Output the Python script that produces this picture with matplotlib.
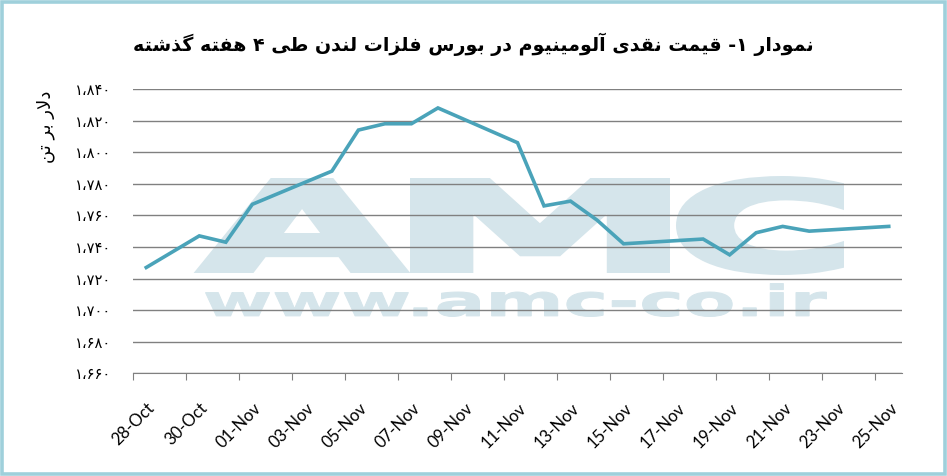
import numpy as np
import pandas as pd
import matplotlib
matplotlib.use('Agg')
from matplotlib import pyplot as plt
from matplotlib.patches import PathPatch, Rectangle
from matplotlib.textpath import TextPath
from matplotlib.font_manager import FontProperties
from matplotlib.transforms import Affine2D


dates = ['2019-10-28', '2019-10-29', '2019-10-30', '2019-10-31', '2019-11-01',
         '2019-11-04', '2019-11-05', '2019-11-06', '2019-11-07', '2019-11-08',
         '2019-11-11', '2019-11-12', '2019-11-13', '2019-11-14', '2019-11-15',
         '2019-11-18', '2019-11-19', '2019-11-20', '2019-11-21', '2019-11-22',
         '2019-11-25']
prices = [1727, 1737, 1747, 1743, 1767,
          1788, 1814, 1818, 1818, 1828,
          1806, 1766, 1769, 1757, 1742,
          1745, 1735, 1749, 1753, 1750,
          1753]
yticks = list(range(1660, 1841, 20))
title = 'نمودار ۱- قیمت نقدی آلومینیوم در بورس فلزات لندن طی ۴ هفته گذشته'
ylabel = 'دلار بر تن'


# matplotlib has no arabic shaping, so pick presentation forms by hand
# (isolated, final, initial, medial)
FORMS = {
	'ا': ('\uFE8D', '\uFE8E', None, None),
	'آ': ('\uFE81', '\uFE82', None, None),
	'ب': ('\uFE8F', '\uFE90', '\uFE91', '\uFE92'),
	'ت': ('\uFE95', '\uFE96', '\uFE97', '\uFE98'),
	'د': ('\uFEA9', '\uFEAA', None, None),
	'ذ': ('\uFEAB', '\uFEAC', None, None),
	'ر': ('\uFEAD', '\uFEAE', None, None),
	'ز': ('\uFEAF', '\uFEB0', None, None),
	'س': ('\uFEB1', '\uFEB2', '\uFEB3', '\uFEB4'),
	'ش': ('\uFEB5', '\uFEB6', '\uFEB7', '\uFEB8'),
	'ط': ('\uFEC1', '\uFEC2', '\uFEC3', '\uFEC4'),
	'ف': ('\uFED1', '\uFED2', '\uFED3', '\uFED4'),
	'ق': ('\uFED5', '\uFED6', '\uFED7', '\uFED8'),
	'ل': ('\uFEDD', '\uFEDE', '\uFEDF', '\uFEE0'),
	'م': ('\uFEE1', '\uFEE2', '\uFEE3', '\uFEE4'),
	'ن': ('\uFEE5', '\uFEE6', '\uFEE7', '\uFEE8'),
	'ه': ('\uFEE9', '\uFEEA', '\uFEEB', '\uFEEC'),
	'و': ('\uFEED', '\uFEEE', None, None),
	'ی': ('\uFBFC', '\uFBFD', '\uFBFE', '\uFBFF'),
	'گ': ('\uFB92', '\uFB93', '\uFB94', '\uFB95'),
}


def shape(s):
	out = []
	i = 0
	while i < len(s):
		c = s[i]
		if c not in FORMS:
			out.append(c)
			i += 1
			continue
		prev = s[i-1] if i > 0 else None
		jp = prev in FORMS and FORMS[prev][2] is not None
		if c == 'ل' and i+1 < len(s) and s[i+1] == 'ا':
			out.append('\uFEFC' if jp else '\uFEFB')
			i += 2
			continue
		nxt = s[i+1] if i+1 < len(s) else None
		iso, fin, ini, med = FORMS[c]
		jn = ini is not None and nxt in FORMS
		if jp and jn:
			out.append(med)
		elif jp:
			out.append(fin)
		elif jn:
			out.append(ini)
		else:
			out.append(iso)
		i += 1
	return ''.join(out)[::-1]


def fa_num(v):
	return f'{v:,}'.translate(str.maketrans('0123456789,', '۰۱۲۳۴۵۶۷۸۹،'))


W, H = 947, 476
fig = plt.figure(figsize=(W/100, H/100), dpi=100)
ax = fig.add_axes([133/W, 1-373.3/H, 769/W, (373.3-89)/H])

x = pd.to_datetime(dates) + pd.Timedelta(hours=12)
ax.plot(x, prices, color='#4aa3b9', linewidth=2.6, zorder=3, solid_joinstyle='miter')

ax.set_ylim(1660, 1840)
ax.set_yticks(yticks)
ax.set_yticklabels([fa_num(v) for v in yticks], fontsize=10.5, family='DejaVu Sans')
ax.set_xlim(pd.Timestamp('2019-10-28'), pd.Timestamp('2019-11-26'))
ticks = pd.date_range('2019-10-28', '2019-11-25', freq='2D')
ax.set_xticks(ticks)
ax.set_xticklabels([t.strftime('%d-%b') for t in ticks], rotation=45,
	ha='center', va='top', fontsize=12, family='Lato')

ax.set_axisbelow(True)
ax.grid(axis='y', color='#808080', linewidth=1)
for s in ['top', 'right', 'left']:
	ax.spines[s].set_visible(False)
ax.spines['bottom'].set_color('#808080')
ax.tick_params(axis='y', length=0, pad=16)
ax.tick_params(axis='x', length=5, color='#808080', pad=14)


def watermark(text, box, stroke):
	# box in pixels from top-left: x0, y0, x1, y1; stroke thickens the glyphs (px)
	p = TextPath((0, 0), text, prop=FontProperties(family='DejaVu Sans', weight='bold'))
	e = p.get_extents()
	h = stroke/2
	x0, y0, x1, y1 = box[0]+h, box[1]+h, box[2]-h, box[3]-h
	t = Affine2D().translate(-e.x0, -e.y0).scale((x1-x0)/W/e.width, (y1-y0)/H/e.height) \
		.translate(x0/W, 1-y1/H) + fig.transFigure
	ax.add_patch(PathPatch(p, transform=t, facecolor='#d5e5eb', edgecolor='#d5e5eb',
		linewidth=stroke*0.72, joinstyle='miter', zorder=0.2, clip_on=False))


watermark('A', (198, 178, 406, 273), 8)
watermark('M', (410, 178, 670, 273), 8)
watermark('C', (676, 176, 844, 275), 8)
watermark('www.amc-co.ir', (205, 283, 827, 317), 1)

fig.text(0.5, 1-44/H, shape(title), ha='center', va='center', fontsize=13.7,
	fontweight='bold', family='DejaVu Sans')
fig.text(46/W, 1-127/H, shape(ylabel), rotation=90, ha='center', va='center',
	fontsize=13, family='DejaVu Sans')

fig.patches.append(Rectangle((1.5/W, 2/H), 1-3.5/W, 1-3.5/H, transform=fig.transFigure,
	fill=False, edgecolor='#9fd0db', linewidth=2.6))

fig.savefig('out.png', dpi=100)
